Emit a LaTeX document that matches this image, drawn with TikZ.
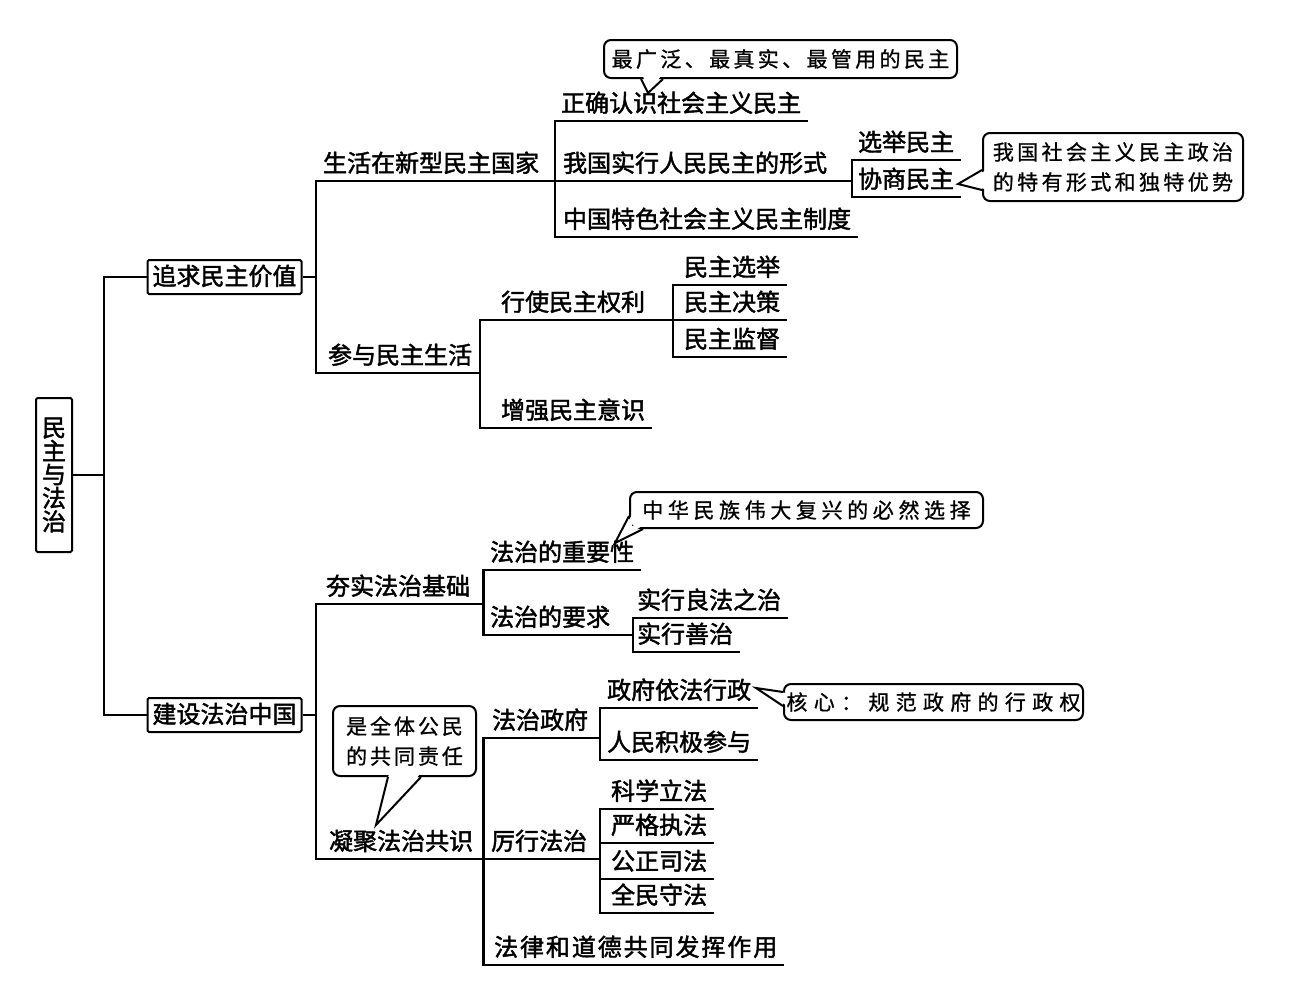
\documentclass[tikz,border=0pt]{standalone}
\usepackage{fontspec}
\newfontfamily\cjk[FakeBold=1.8]{Noto Sans CJK SC}
\newfontfamily\cjkc[FakeBold=0.8]{Noto Sans CJK SC}
\usetikzlibrary{calc}
\tikzset{
  lbl/.style={anchor=south west, inner xsep=6pt, inner ysep=5pt, text height=19pt, text depth=3pt, font=\cjk\fontsize{24}{28}\selectfont},
  box/.style={draw, line width=2pt, rounded corners=1.5pt, inner xsep=5pt, minimum height=34pt, text height=19pt, text depth=3pt, font=\cjk\fontsize{24}{28}\selectfont},
  rootbox/.style={draw, line width=2pt, rounded corners=1.5pt, inner sep=0pt, minimum width=36pt, minimum height=154pt, align=center, font=\cjk\fontsize{24}{23.5}\selectfont},
  callout/.style={draw, line width=2pt, rounded corners=7pt, fill=white, inner sep=0pt, align=center, font=\cjkc\fontsize{21}{30}\selectfont},
  tail/.style={line width=2pt, line join=miter},
  erase/.style={fill=white}
}
\begin{document}
\begin{tikzpicture}[x=1pt,y=-1pt,line width=2.2pt]
\useasboundingbox[fill=white] (0,0) rectangle (1309,996);

% root and level 1
\node[rootbox] (root) at (54,475) {民\\主\\与\\法\\治};
\node[box] (A) at (224.5,277) {追求民主价值};
\node[box] (B) at (224.5,715) {建设法治中国};
\coordinate (v0) at (104,0);
\draw (root.east) -- (v0 |- root.east);
\draw (A.west) -- (v0 |- A.west) -- (v0 |- B.west) -- (B.west);

% ---------- A branch
\coordinate (v1) at (316,0);
\coordinate (v2) at (555,0);
\coordinate (v3) at (480,0);
\coordinate (v4) at (852,0);
\coordinate (v9) at (673,0);
\node[lbl] (a1) at (316,181) {生活在新型民主国家};
\node[lbl] (a2) at (321,373) {参与民主生活};
\draw (A.east) -- (v1 |- A.east);
\draw (v2 |- a1.south) -- (v1 |- a1.south) -- (v1 |- a2.south) -- (v3 |- a2.south);

\node[lbl] (a11) at (554,121) {正确认识社会主义民主};
\node[lbl] (a12) at (556,181) {我国实行人民民主的形式};
\node[lbl] (a13) at (556,237) {中国特色社会主义民主制度};
\draw (a11.south east) -- (v2 |- a11.south) -- (v2 |- a13.south) -- (a13.south east);
\draw (v2 |- a12.south) -- (v4 |- a12.south);

\node[lbl] (a121) at (851,160) {选举民主};
\node[lbl] (a122) at (851,197) {协商民主};
\draw (a121.south east) -- (v4 |- a121.south) -- (v4 |- a122.south) -- (a122.south east);

\node[lbl] (a21) at (494,320) {行使民主权利};
\node[lbl] (a22) at (494,428) {增强民主意识};
\draw (v9 |- a21.south) -- (v3 |- a21.south) -- (v3 |- a22.south) -- (a22.south east);

\node[lbl] (a211) at (677,285) {民主选举};
\node[lbl] (a212) at (677,320) {民主决策};
\node[lbl] (a213) at (677,357) {民主监督};
\draw (a211.south east) -- (v9 |- a211.south) -- (v9 |- a213.south) -- (a213.south east);
\draw (v9 |- a212.south) -- (a212.south east);

% ---------- B branch
\coordinate (v5) at (483.5,0);
\coordinate (v7) at (633,0);
\coordinate (v8) at (600,0);
\node[lbl] (b1) at (319,604) {夯实法治基础};
\node[lbl] (b2) at (322,859) {凝聚法治共识};
\draw (B.east) -- (v1 |- B.east);
\draw (v5 |- b1.south) -- (v1 |- b1.south) -- (v1 |- b2.south) -- (v5 |- b2.south);

\node[lbl] (b11) at (483,570) {法治的重要性};
\node[lbl] (b12) at (483,635) {法治的要求};
\draw (b11.south east) -- (v5 |- b11.south) -- (v5 |- b12.south) -- (v7 |- b12.south);

\node[lbl] (b121) at (630,618) {实行良法之治};
\node[lbl] (b122) at (630,652) {实行善治};
\draw (b121.south east) -- (v7 |- b121.south) -- (v7 |- b122.south) -- (b122.south east);

\node[lbl] (b21) at (485,738) {法治政府};
\node[lbl] (b22) at (484,859) {厉行法治};
\node[lbl] (b23) at (487,965) {\addfontfeature{LetterSpace=8}法律和道德共同发挥作用};
\draw (v8 |- b21.south) -- (v5 |- b21.south) -- (v5 |- b23.south) -- (b23.south east);
\draw (v5 |- b22.south) -- (v8 |- b22.south);

\node[lbl] (b211) at (600,708) {政府依法行政};
\node[lbl] (b212) at (600,760) {人民积极参与};
\draw (b211.south east) -- (v8 |- b211.south) -- (v8 |- b212.south) -- (b212.south east);

\node[lbl] (b221) at (604,809) {科学立法};
\node[lbl] (b222) at (604,843) {严格执法};
\node[lbl] (b223) at (604,879) {公正司法};
\node[lbl] (b224) at (604,913) {全民守法};
\draw (b221.south east) -- (v8 |- b221.south) -- (v8 |- b224.south) -- (b224.south east);
\draw (b222.south east) -- (v8 |- b222.south);
\draw (b223.south east) -- (v8 |- b223.south);

% ---------- callouts
% c1
\node[callout, minimum width=353pt, minimum height=38pt] (c1) at (780.5,59) {\addfontfeature{LetterSpace=16}最广泛、最真实、最管用的民主};
\coordinate (c1t) at (648,93);
\fill[erase] ($(c1.south west)+(40,-3)$) -- (c1t) -- ($(c1.south west)+(58,-3)$) -- cycle;
\draw[tail] ($(c1.south west)+(38,0)$) -- (c1t) -- ($(c1.south west)+(60,0)$);

% c2
\node[callout, minimum width=260pt, minimum height=68pt] (c2) at (1113,167) {\addfontfeature{LetterSpace=16}我国社会主义民主政治\\\addfontfeature{LetterSpace=16}的特有形式和独特优势};
\coordinate (c2t) at (958,184);
\fill[erase] ($(c2.west)+(3,4)$) -- (c2t) -- ($(c2.west)+(3,22)$) -- cycle;
\draw[tail] ($(c2.west)+(0,3)$) -- (c2t) -- ($(c2.west)+(0,23)$);

% c3
\node[callout, minimum width=353pt, minimum height=36pt] (c3) at (806.5,510) {\addfontfeature{LetterSpace=22}中华民族伟大复兴的必然选择};
\coordinate (c3t) at (615,543);
\fill[erase] ($(c3.south west)+(3,-14)$) -- (c3t) -- ($(c3.south west)+(13,-3)$) -- ($(c3.south west)+(3,-3)$) -- cycle;
\draw[tail] ($(c3.south west)+(0,-13)$) -- (c3t) -- ($(c3.south west)+(14,0)$);

% c4
\node[callout, minimum width=299pt, minimum height=36pt] (c4) at (933.5,702) {\addfontfeature{LetterSpace=30}核心：规范政府的行政权};
\coordinate (c4t) at (756,688);
\fill[erase] ($(c4.west)+(3,-9)$) -- (c4t) -- ($(c4.west)+(3,3)$) -- cycle;
\draw[tail] ($(c4.west)+(0,-10)$) -- (c4t) -- ($(c4.west)+(0,4)$);

% c5
\node[callout, minimum width=143pt, minimum height=70pt] (c5) at (404.5,741) {\addfontfeature{LetterSpace=14}是全体公民\\\addfontfeature{LetterSpace=14}的共同责任};
\coordinate (c5t) at (376,825);
\fill[erase] ($(c5.south west)+(57,-3)$) -- (c5t) -- ($(c5.south west)+(88,-3)$) -- cycle;
\draw[tail] ($(c5.south west)+(56,0)$) -- (c5t) -- ($(c5.south west)+(89,0)$);
\end{tikzpicture}
\end{document}
